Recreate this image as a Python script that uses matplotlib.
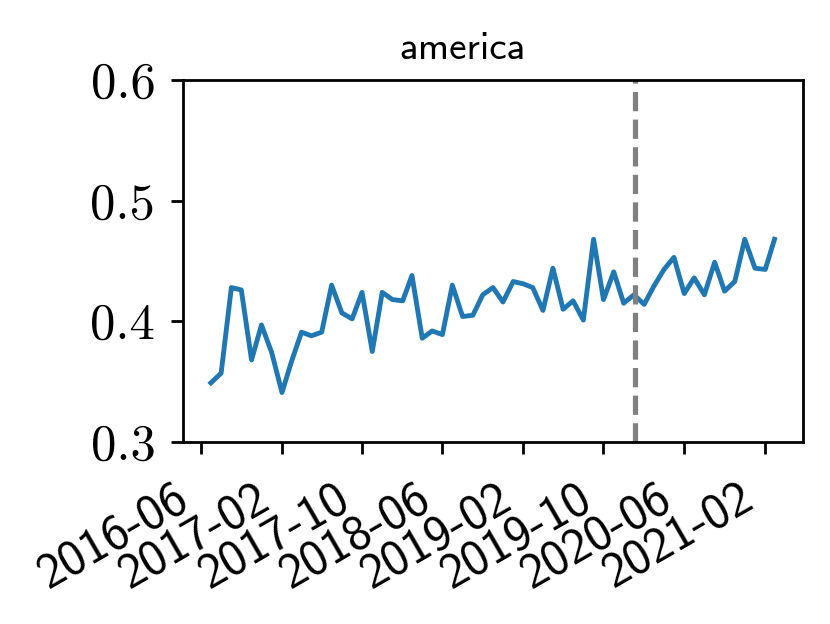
import os
import numpy as np
import pandas as pd
import matplotlib
matplotlib.use("Agg")
import matplotlib.pyplot as plt
import matplotlib.dates as mdates
import matplotlib.transforms as mtransforms
from matplotlib.font_manager import FontProperties

# monthly share
months = pd.date_range("2016-07-01", "2021-03-01", freq="MS")
share = [0.349, 0.357, 0.428, 0.426, 0.368, 0.397, 0.374, 0.341, 0.366, 0.391,
         0.388, 0.391, 0.430, 0.407, 0.402, 0.424, 0.375, 0.424, 0.418, 0.417,
         0.438, 0.386, 0.392, 0.389, 0.430, 0.404, 0.405, 0.422, 0.428, 0.416,
         0.433, 0.431, 0.428, 0.409, 0.444, 0.410, 0.417, 0.401, 0.468, 0.418,
         0.441, 0.415, 0.422, 0.414, 0.429, 0.443, 0.453, 0.423, 0.436, 0.422,
         0.449, 0.425, 0.433, 0.468, 0.444, 0.443, 0.468]
region = "america"
cutoff = pd.Timestamp("2020-01-05")
xtick_dates = pd.to_datetime(["2016-06-01", "2017-02-01", "2017-10-01", "2018-06-01",
                              "2019-02-01", "2019-10-01", "2020-06-01", "2021-02-01"])
yticks = [0.3, 0.4, 0.5, 0.6]

# computer modern fonts shipped with matplotlib
fontdir = os.path.join(matplotlib.get_data_path(), "fonts", "ttf")
cm_serif = FontProperties(fname=os.path.join(fontdir, "cmr10.ttf"), size=14.6)
cm_sans = FontProperties(fname=os.path.join(fontdir, "cmss10.ttf"), size=14.3)
cm_sans_title = FontProperties(fname=os.path.join(fontdir, "cmss10.ttf"), size=11.3)

fig = plt.figure(figsize=(3.32, 2.496), dpi=250)
ax = fig.add_axes([0.2201, 0.2917, 0.9671 - 0.2201, 0.8718 - 0.2917])

ax.plot(months, share, color="#1f77b4", lw=1.4)
ax.axvline(cutoff, color="grey", ls="--", lw=1.5)

ax.set_ylim(0.3, 0.6)
ax.set_yticks(yticks)
ax.set_yticklabels(["%.1f" % v for v in yticks])
for lbl in ax.get_yticklabels():
    lbl.set_fontproperties(cm_serif)
ax.tick_params(axis="y", pad=4.4)

ax.set_xticks(xtick_dates)
ax.set_xticklabels([d.strftime("%Y-%m") for d in xtick_dates])
ax.tick_params(axis="x", pad=6.2)
shift = mtransforms.ScaledTranslation(-4 / 250, 0, fig.dpi_scale_trans)
for lbl in ax.get_xticklabels():
    lbl.set_fontproperties(cm_sans)
    lbl.set_rotation(30)
    lbl.set_ha("right")
    lbl.set_transform(lbl.get_transform() + shift)

ax.set_title(region, fontproperties=cm_sans_title, x=0.451)

fig.savefig("out.png", dpi=250)
